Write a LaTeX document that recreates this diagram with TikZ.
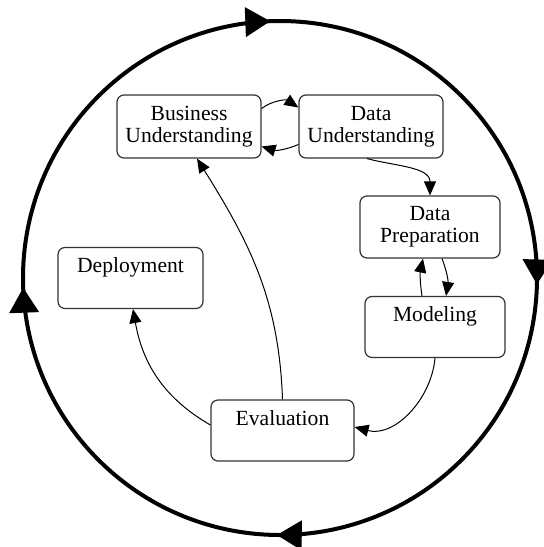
\documentclass[tikz,border=0pt]{standalone}
\usepackage{fontspec}
\setmainfont{Liberation Serif}
\usetikzlibrary{arrows.meta,decorations.markings}

\tikzset{
  phase/.style={draw=black!80, line width=0.6pt, rounded corners=3.5pt, align=center,
    inner sep=3pt, font=\fontsize{10.8}{11}\selectfont},
  phasetop/.style={phase, text height=9.5pt, text depth=15pt},
  link/.style={line width=0.5pt, -{Triangle[length=7pt,width=6pt]}},
  outerloop/.style={line width=2pt, postaction={decorate}, decoration={markings,
    mark=at position 0.129 with {\arrow{Triangle[length=12.5pt,width=14.5pt]}},
    mark=at position 0.377 with {\arrow{Triangle[length=12.5pt,width=14.5pt]}},
    mark=at position 0.619 with {\arrow{Triangle[length=12.5pt,width=14.5pt]}},
    mark=at position 0.869 with {\arrow{Triangle[length=12.5pt,width=14.5pt]}}}}
}

\begin{document}
\begin{tikzpicture}[x=0.5pt,y=0.5pt]
\useasboundingbox (0,0) rectangle (543,-547);
% outer cycle
\draw [outerloop] (280,-278) ++(45:257) arc [start angle=45, end angle=-315, radius=257];
% phases
\node [phase, minimum width=72pt, minimum height=31.5pt] (bu) at (189,-126.5) {Business\\Understanding};
\node [phase, minimum width=72pt, minimum height=31.5pt] (du) at (371,-126.5) {Data\\Understanding};
\node [phase, minimum width=70pt, minimum height=31pt] (dp) at (430,-227) {Data\\Preparation};
\node [phasetop, minimum width=70pt] (mod) at (435,-327) {Modeling};
\node [phasetop, minimum width=72.5pt] (dep) at (130.5,-278) {Deployment};
\node [phasetop, minimum width=71.5pt] (ev) at (282.5,-430.5) {Evaluation};
% links
\draw [link] ([yshift=9pt]bu.east) to [bend left=35] ([yshift=9.5pt]du.west);
\draw [link] ([yshift=-9pt]du.west) to [bend left=20] ([yshift=-10pt]bu.east);
\draw [link] ([xshift=-2pt]du.south) to [out=-15, in=90] (dp.north);
\draw [link] ([xshift=6pt]dp.south) to [bend left=15] ([xshift=5.5pt]mod.north);
\draw [link] ([xshift=-6.5pt]mod.north) to [bend left=10] ([xshift=-3.5pt]dp.south);
\draw [link] (mod.south) to [out=-95, in=-15] ([yshift=1.75pt]ev.east);
\draw [link] (ev.north) to [out=92, in=-58] ([xshift=4pt]bu.south);
\draw [link] ([yshift=2.75pt]ev.west) to [out=150, in=-80] ([xshift=1.25pt]dep.south);
\end{tikzpicture}
\end{document}
